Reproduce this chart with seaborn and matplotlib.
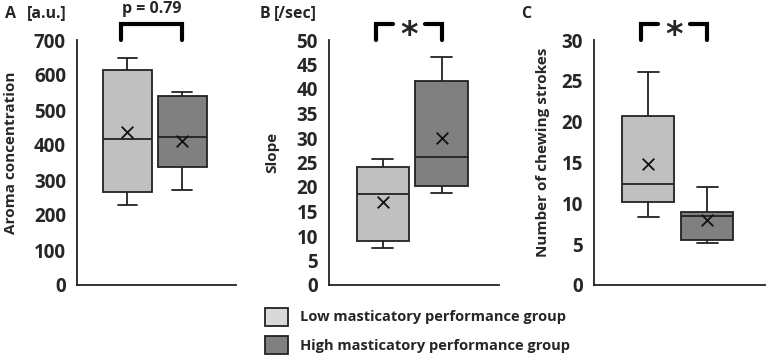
import numpy as np
import pandas as pd
import matplotlib
matplotlib.use("Agg")
import matplotlib.pyplot as plt
import matplotlib.transforms as mtransforms
from matplotlib.patches import Patch
import seaborn as sns

groups = ["Low masticatory performance group", "High masticatory performance group"]

# five-number summaries: min, Q1, median, Q3, max
aroma_low = [228, 266, 416, 615, 650]
aroma_high = [271, 338, 422, 539, 552]
slope_low = [7.6, 9.0, 18.5, 24.0, 25.7]
slope_high = [18.8, 20.2, 26.1, 41.7, 46.5]
strokes_low = [8.3, 10.2, 12.4, 20.7, 26.1]
strokes_high = [5.2, 5.5, 8.4, 9.0, 12.0]

# means (x markers)
aroma_mean = [436, 412]
slope_mean = [16.9, 30.1]
strokes_mean = [14.8, 8.0]

panel_letters = ["A", "B", "C"]
units = ["[a.u.]", "[/sec]", ""]
ylabels = ["Aroma concentration", "Slope", "Number of chewing strokes"]
ylims = [700, 50, 30]
ysteps = [100, 5, 5]
sig_texts = ["p = 0.79", "*", "*"]

box_colors = ["#c0c0c0", "#808080"]
legend_colors = ["#d9d9d9", "#808080"]

sns.set_style("white")
plt.rcParams["font.family"] = ["Open Sans", "DejaVu Sans"]
plt.rcParams["font.weight"] = "bold"

fig = plt.figure(figsize=(7.67, 3.61), dpi=100)
W, H = 767, 361
# axes rectangles in pixels: left spine x, right end x
spans = [(77, 236), (329, 499), (594, 765)]
label_x = [-0.37, -0.295, -0.26]
axes = []
for x0, x1 in spans:
    axes.append(fig.add_axes([x0 / W, (H - 285) / H, (x1 - x0) / W, 245 / H]))

data_sets = [(aroma_low, aroma_high), (slope_low, slope_high), (strokes_low, strokes_high)]
means = [aroma_mean, slope_mean, strokes_mean]

for i, ax in enumerate(axes):
    lo, hi = data_sets[i]
    df = pd.DataFrame({
        "group": [groups[0]] * len(lo) + [groups[1]] * len(hi),
        "value": lo + hi,
    })
    sns.boxplot(data=df, x="group", y="value", hue="group", order=groups,
                palette=dict(zip(groups, box_colors)), saturation=1,
                width=0.89, whis=(0, 100), linecolor="#222222", linewidth=1.3,
                legend=False, ax=ax, capwidths=0.36)
    sns.scatterplot(x=[0, 1], y=means[i], marker="x", color="#111111", s=70,
                    linewidth=1.3, ax=ax, zorder=5)
    ax.set_xlim(-0.92, 1.98)
    ax.set_ylim(0, ylims[i])
    ax.set_yticks(np.arange(0, ylims[i] + 0.1, ysteps[i]))
    ax.tick_params(axis="y", labelsize=13.5, length=0, pad=8)
    for lab in ax.get_yticklabels():
        lab.set_fontweight("bold")
    ax.set_xticks([])
    ax.set_xlabel("")
    ax.set_ylabel(ylabels[i], fontsize=11, fontweight="bold")
    ax.yaxis.set_label_coords(label_x[i], 0.54)
    sns.despine(ax=ax)
    for s in ["left", "bottom"]:
        ax.spines[s].set_color("#222222")
        ax.spines[s].set_linewidth(1.3)

    # significance bracket
    tr = mtransforms.blended_transform_factory(ax.transData, ax.transAxes)
    xa, xb = -0.12, 1.0
    ytop, ybot = 1.065, 1.0
    if sig_texts[i] == "*":
        xm = (xa + xb) / 2
        ax.plot([xa, xa, xm - 0.27], [ybot, ytop, ytop], color="black", lw=3,
                transform=tr, clip_on=False, solid_joinstyle="miter")
        ax.plot([xm + 0.27, xb, xb], [ytop, ytop, ybot], color="black", lw=3,
                transform=tr, clip_on=False, solid_joinstyle="miter")
        ax.text(xm, ytop - 0.045, "*", transform=tr, ha="center", va="center",
                fontsize=24, fontweight="bold", family="DejaVu Sans")
    else:
        ax.plot([xa, xa, xb, xb], [ybot, ytop, ytop, ybot], color="black", lw=3,
                transform=tr, clip_on=False, solid_joinstyle="miter")
        ax.text((xa + xb) / 2, ytop + 0.03, sig_texts[i], transform=tr,
                ha="center", va="bottom", fontsize=11.5, fontweight="bold")

# panel letters and units
fig.text(5 / W, 1 - 14 / H, "A", fontsize=11.5, fontweight="bold", va="center")
fig.text(27 / W, 1 - 13 / H, units[0], fontsize=11.5, fontweight="bold", va="center")
fig.text(260 / W, 1 - 14 / H, "B", fontsize=11.5, fontweight="bold", va="center")
fig.text(274 / W, 1 - 13 / H, units[1], fontsize=11.5, fontweight="bold", va="center")
fig.text(521 / W, 1 - 14 / H, "C", fontsize=11.5, fontweight="bold", va="center")

handles = [Patch(facecolor=c, edgecolor="#222222", linewidth=1.3) for c in legend_colors]
fig.legend(handles, groups, loc="center left", bbox_to_anchor=(265 / W, 1 - 331 / H),
           frameon=False, prop={"weight": "bold", "size": 10.5},
           handlelength=1.6, handleheight=1.5, handletextpad=0.8,
           labelspacing=0.75, borderaxespad=0, borderpad=0)

fig.savefig("out.png", dpi=100)
